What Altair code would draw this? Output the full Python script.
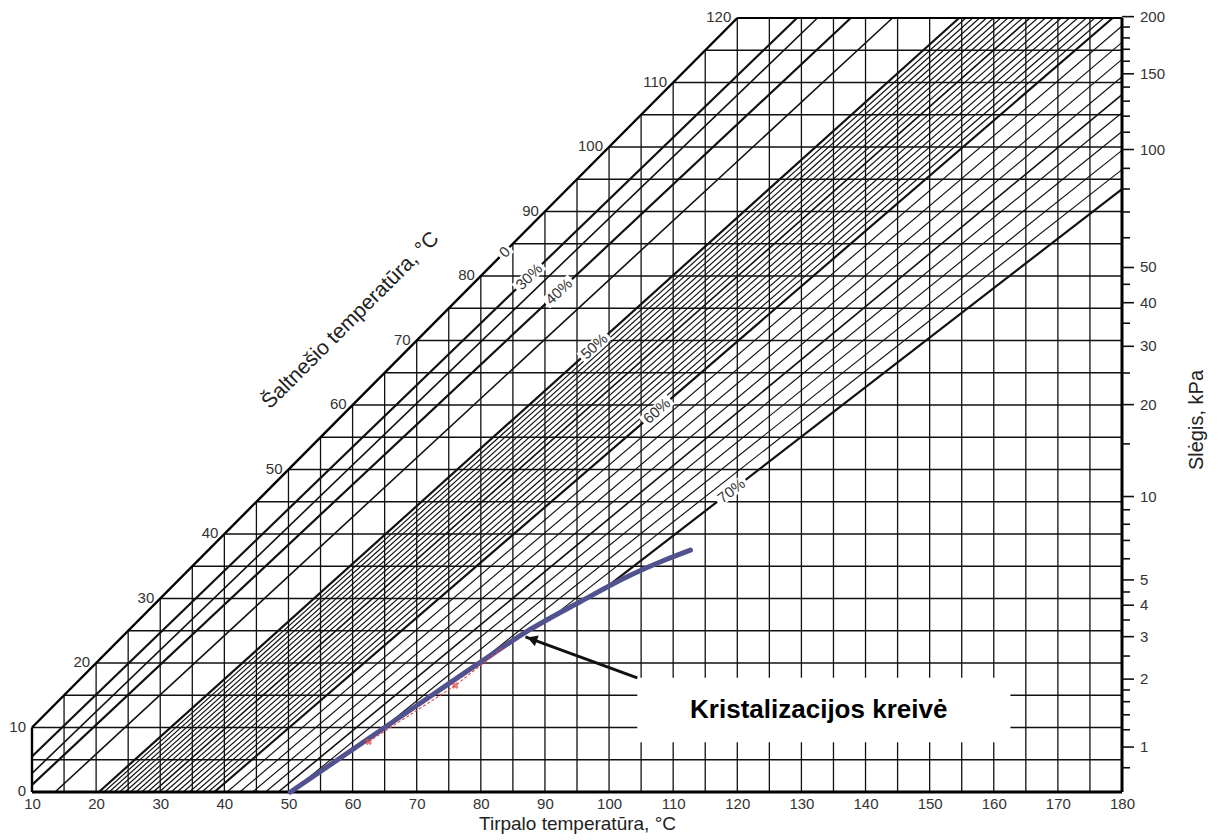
import altair as alt
import numpy as np
import pandas as pd

FONT = "Liberation Sans"
W, H = 1090, 774
XMIN, XMAX, YMIN, YMAX = 10, 180, 0, 120

# ---------------- data ----------------
x_labels = list(range(10, 181, 10))          # solution temperature labels
ref_labels = list(range(0, 121, 10))         # refrigerant temperature labels
vgrid = list(range(15, 180, 5))
hgrid = list(range(5, 120, 5))

# pressure axis (kPa) and the refrigerant temperature where each tick sits
p_major = [1, 2, 3, 4, 5, 10, 20, 30, 40, 50, 100, 150, 200]
p_major_t = [6.97, 17.50, 24.08, 28.96, 32.88, 45.81, 60.06, 69.10, 75.86, 81.32, 99.61, 111.35, 120.21]
p_minor = [0.8, 1.2, 1.4, 1.6, 1.8, 2.5, 3.5, 4.5, 6, 7, 8, 9, 15, 25, 35, 45,
           60, 70, 80, 90, 110, 120, 130, 140, 160, 170, 180, 190]
p_minor_t = [3.76, 9.65, 11.97, 14.00, 15.82, 21.08, 26.67, 31.01, 36.16, 39.00, 41.51, 43.76,
             53.97, 64.96, 72.68, 78.71, 85.93, 89.93, 93.49, 96.69, 102.29, 104.78, 107.11,
             109.29, 113.30, 115.15, 116.91, 118.60]

# concentration lines: solution temperature at refrigerant 0 °C and at 120 °C
conc_pct = [30, 35, 40, 45,
            50, 50.5, 51, 51.5, 52, 52.5, 53, 53.5, 54, 54.5, 55, 55.5, 56, 56.5,
            57, 57.5, 58, 58.5, 59, 59.5,
            60, 61, 62, 63, 64, 65, 66, 67, 68, 69, 70]
sol_at_ref0 = [4.27, 6.97, 8.82, 13.60,
               20.44, 21.23, 22.02, 22.84, 23.66, 24.51, 25.36, 26.24, 27.11, 28.01, 28.91,
               29.83, 30.75, 31.69, 32.63, 33.58, 34.54, 35.51, 36.48, 37.46,
               38.44, 40.42, 42.41, 44.41, 46.42, 48.42, 50.42, 52.41, 54.38, 56.34, 58.27]
sol_at_ref120 = [129.3, 132.5, 137.7, 144.2,
                 154.59, 155.65, 156.71, 157.79, 158.87, 159.98, 161.08, 162.21, 163.33,
                 164.50, 165.66, 166.86, 168.05, 169.29, 170.53, 171.82, 173.10, 174.44,
                 175.77, 177.16,
                 178.55, 181.45, 184.48, 187.65, 190.97, 194.44, 198.09, 201.91, 205.91,
                 210.12, 214.53]

# labels on concentration lines
lab_text = ["0", "30%", "40%", "50%", "60%", "70%"]
lab_pct = [0, 30, 40, 50, 60, 70]
lab_ref = [83.7, 79.9, 77.6, 69.1, 59.1, 46.7]

# crystallization curve (purple)
cryst_sol = [50.3, 61.2, 70.6, 79.9, 87.7, 95.5, 103.3, 108.8, 112.7]
cryst_ref = [0.0, 7.4, 13.8, 20.1, 25.2, 29.5, 33.6, 36.0, 37.5]

# red dashed measured points
red_sol = [62.5, 76.0, 83.5]
red_ref = [7.8, 16.5, 22.4]

# annotation
box_sol = [104.4, 162.6]
box_ref = [7.7, 17.7]
note_sol, note_ref = 132.7, 11.4
arrow_sol = [104.4, 86.96]
arrow_ref = [17.7, 24.06]
head_sol, head_ref = 88.0, 23.7

# ---------------- geometry tables ----------------
px_x = W / (XMAX - XMIN)
px_y = H / (YMAX - YMIN)


def line_params(pct):
    if pct == 0:
        return 0.0, 1.0
    i = conc_pct.index(pct)
    b = sol_at_ref0[i]
    a = (sol_at_ref120[i] - b) / 120.0
    return b, a


grid_rows = []
for T in vgrid:
    grid_rows.append(dict(x=T, x2=T, y=0, y2=min(T, 120), w=1.3))
for T in hgrid:
    grid_rows.append(dict(x=max(10, T), x2=180, y=T, y2=T, w=1.3))
grid_df = pd.DataFrame(grid_rows)

line_rows = []
for pct in conc_pct:
    b, a = line_params(pct)
    t_lo = 0.0
    if b < XMIN:
        t_lo = (XMIN - b) / a
    if b > cryst_sol[0]:
        tt = np.linspace(0, cryst_ref[-1], 3001)
        f = b + a * tt - np.interp(tt, cryst_ref, cryst_sol)
        idx = np.where(f <= 0)[0]
        t_lo = tt[idx[0]] if len(idx) else cryst_ref[-1]
    t_hi = 120.0
    if b + a * 120 > XMAX:
        t_hi = (XMAX - b) / a
    if float(pct).is_integer() and int(pct) % 10 == 0:
        w = 2.2
    elif float(pct).is_integer() and int(pct) % 5 == 0:
        w = 1.6
    else:
        w = 1.15
    line_rows.append(dict(x=b + a * t_lo, x2=b + a * t_hi, y=t_lo, y2=t_hi, w=w))
lines_df = pd.DataFrame(line_rows)

bound_df = pd.DataFrame([
    dict(x=10, x2=180, y=0, y2=0, w=3.0),
    dict(x=180, x2=180, y=0, y2=120, w=3.0),
    dict(x=120, x2=180, y=120, y2=120, w=2.2),
    dict(x=10, x2=120, y=10, y2=120, w=2.4),
    dict(x=10, x2=10, y=0, y2=10, w=2.4),
])

gap_rows, lab_rows = [], []
for txt, pct, t in zip(lab_text, lab_pct, lab_ref):
    b, a = line_params(pct)
    theta = np.degrees(np.arctan2(px_y, px_x * a))
    hl = 7 if txt == "0" else 18
    d = hl / np.hypot(px_x * a, px_y)
    gap_rows.append(dict(x=b + a * (t - d), x2=b + a * (t + d), y=t - d, y2=t + d))
    lab_rows.append(dict(x=b + a * t, y=t, text=txt, ang=360 - theta))
gap_df = pd.DataFrame(gap_rows)
lab_df = pd.DataFrame(lab_rows)

reflab_df = pd.DataFrame(dict(x=[max(10, T) for T in ref_labels], y=ref_labels,
                              text=[str(T) for T in ref_labels]))
pmaj_df = pd.DataFrame(dict(t=p_major_t, text=[str(p) for p in p_major]))
pmin_df = pd.DataFrame(dict(t=p_minor_t))
cryst_df = pd.DataFrame(dict(x=cryst_sol, y=cryst_ref))
red_df = pd.DataFrame(dict(x=red_sol, y=red_ref))
box_df = pd.DataFrame(dict(x=[box_sol[0]], x2=[box_sol[1]], y=[box_ref[0]], y2=[box_ref[1]]))
note_df = pd.DataFrame(dict(x=[note_sol], y=[note_ref], text=["Kristalizacijos kreivė"]))
arrow_df = pd.DataFrame(dict(x=[arrow_sol[0]], x2=[arrow_sol[1]], y=[arrow_ref[0]], y2=[arrow_ref[1]]))
head_df = pd.DataFrame(dict(x=[head_sol], y=[head_ref]))
ytitle_df = pd.DataFrame(dict(x=[59.7], y=[73.1], text=["Šaltnešio temperatūra, °C"]))
rtitle_df = pd.DataFrame(dict(text=["Slėgis, kPa"]))

# ---------------- chart ----------------
xs = alt.Scale(domain=[XMIN, XMAX], nice=False, zero=False)
ys = alt.Scale(domain=[YMIN, YMAX], nice=False, zero=False)

x_axis = alt.Axis(values=x_labels, ticks=False, domain=False, grid=False,
                  labelFont=FONT, labelFontSize=15, labelColor="#333", labelPadding=4,
                  labelFlush=False, labelOverlap=False,
                  title="Tirpalo temperatūra, °C", titleFont=FONT, titleFontSize=19,
                  titleFontWeight="normal", titleColor="#222", titlePadding=3)


def X():
    return alt.X("x:Q", scale=xs, axis=x_axis)


def Y():
    return alt.Y("y:Q", scale=ys, axis=None)


grid = alt.Chart(grid_df).mark_rule(color="#111").encode(
    x=X(), x2="x2:Q", y=Y(), y2="y2:Q",
    strokeWidth=alt.StrokeWidth("w:Q", scale=None))

conc_lines = alt.Chart(lines_df).mark_rule(color="#111").encode(
    x=X(), x2="x2:Q", y=Y(), y2="y2:Q",
    strokeWidth=alt.StrokeWidth("w:Q", scale=None))

bounds = alt.Chart(bound_df).mark_rule(color="#000").encode(
    x=X(), x2="x2:Q", y=Y(), y2="y2:Q",
    strokeWidth=alt.StrokeWidth("w:Q", scale=None))

gaps = alt.Chart(gap_df).mark_rule(color="white", strokeWidth=13).encode(
    x=X(), x2="x2:Q", y=Y(), y2="y2:Q")

conc_labels = alt.Chart(lab_df).mark_text(font=FONT, fontSize=15, color="#333",
                                          align="center", baseline="middle").encode(
    x=X(), y=Y(), text="text:N", angle=alt.Angle("ang:Q", scale=None))

ref_text = alt.Chart(reflab_df).mark_text(font=FONT, fontSize=15, color="#333",
                                          align="right", baseline="middle", dx=-6, dy=-1).encode(
    x=X(), y=Y(), text="text:N")

cryst = alt.Chart(cryst_df).mark_line(color="#52528f", strokeWidth=5, interpolate="monotone",
                                       strokeCap="round").encode(x=X(), y=Y())

red_line = alt.Chart(red_df).mark_line(color="#e04848", strokeWidth=1.1, strokeDash=[3, 2]).encode(
    x=X(), y=Y())
red_pts = alt.Chart(red_df.iloc[:2]).mark_point(shape="cross", angle=45, size=50, filled=True,
                                                 color="#e04848").encode(x=X(), y=Y())

box = alt.Chart(box_df).mark_rect(color="white").encode(x=X(), x2="x2:Q", y=Y(), y2="y2:Q")
note = alt.Chart(note_df).mark_text(font=FONT, fontSize=26, fontWeight="bold", color="#000",
                                    align="center", baseline="alphabetic").encode(
    x=X(), y=Y(), text="text:N")
arrow = alt.Chart(arrow_df).mark_rule(color="#111", strokeWidth=3).encode(
    x=X(), x2="x2:Q", y=Y(), y2="y2:Q")
head = alt.Chart(head_df).mark_point(shape="triangle-up", angle=290, size=130, filled=True,
                                     color="#111", opacity=1).encode(x=X(), y=Y())

pmaj_ticks = alt.Chart(pmaj_df).mark_rule(color="#111", strokeWidth=1.6).encode(
    x=alt.value(W), x2=alt.value(W + 12), y=alt.Y("t:Q", scale=ys, axis=None))
pmin_ticks = alt.Chart(pmin_df).mark_rule(color="#111", strokeWidth=1.6).encode(
    x=alt.value(W), x2=alt.value(W + 8), y=alt.Y("t:Q", scale=ys, axis=None))
pmaj_text = alt.Chart(pmaj_df).mark_text(font=FONT, fontSize=15, color="#333", align="left",
                                         baseline="middle").encode(
    x=alt.value(W + 18), y=alt.Y("t:Q", scale=ys, axis=None), text="text:N")

ytitle = alt.Chart(ytitle_df).mark_text(font=FONT, fontSize=21, color="#222", angle=315,
                                        align="center", baseline="middle").encode(
    x=X(), y=Y(), text="text:N")
rtitle = alt.Chart(rtitle_df).mark_text(font=FONT, fontSize=20, color="#222", angle=270,
                                        align="center", baseline="middle").encode(
    x=alt.value(1165), y=alt.value(402), text="text:N")

chart = alt.layer(
    grid, conc_lines, bounds, gaps, conc_labels, ref_text, cryst, red_line, red_pts,
    box, note, arrow, head, pmaj_ticks, pmin_ticks, pmaj_text, ytitle, rtitle
).properties(
    width=W, height=H,
    autosize=alt.AutoSizeParams(type="none"),
    padding={"left": 24, "top": 10, "right": 91, "bottom": 44},
    background="white",
).configure_view(stroke=None)

chart.save("out.html", embed_options={"renderer": "svg", "actions": False})
